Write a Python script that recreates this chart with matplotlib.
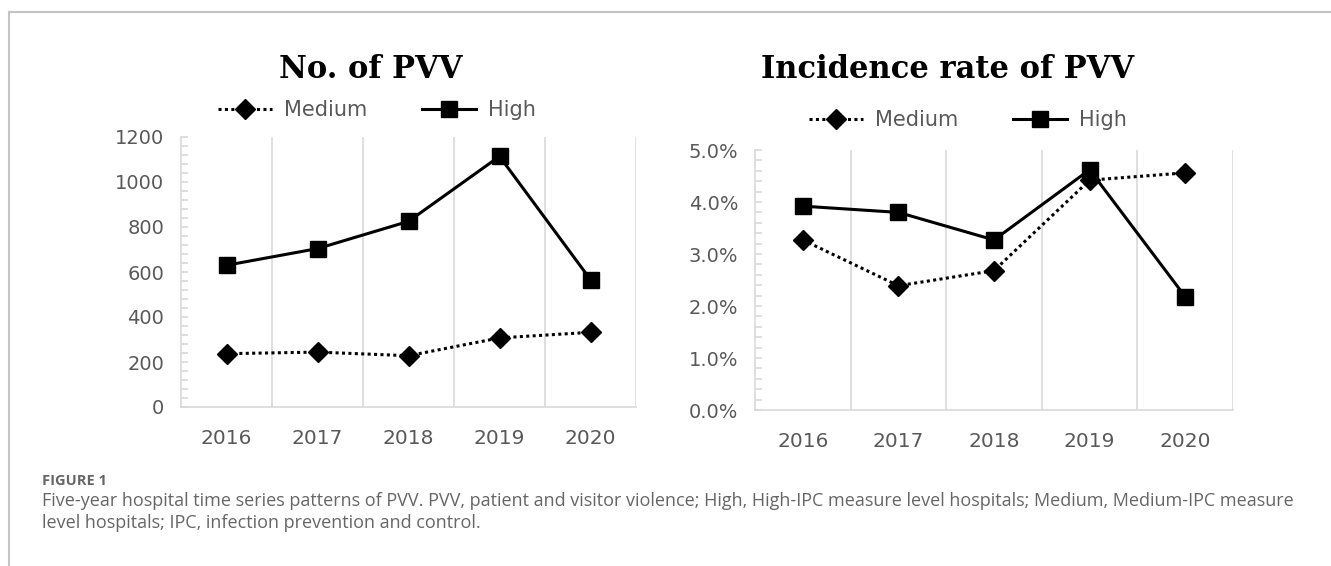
import matplotlib
matplotlib.use("Agg")
import matplotlib.pyplot as plt
from matplotlib.lines import Line2D
from matplotlib.ticker import MultipleLocator, PercentFormatter

years = ["2016", "2017", "2018", "2019", "2020"]

# No. of PVV
count_medium = [237, 244, 228, 307, 332]
count_high = [630, 704, 825, 1114, 566]

# Incidence rate of PVV (%)
rate_medium = [3.27, 2.39, 2.68, 4.42, 4.56]
rate_high = [3.92, 3.80, 3.27, 4.62, 2.18]

caption_head = "FIGURE 1"
caption_body = ("Five-year hospital time series patterns of PVV. PVV, patient and visitor violence; "
                "High, High-IPC measure level hospitals; Medium, Medium-IPC measure\n"
                "level hospitals; IPC, infection prevention and control.")

GREY = "#595959"
GRID = "#d9d9d9"


def draw_panel(ax, medium, high, ymax, major, fmt=None):
    x = list(range(len(years)))
    ax.plot(x, medium, color="black", lw=2.2, ls=(0, (1, 1.1)), marker="D",
            ms=10, zorder=3)
    ax.plot(x, high, color="black", lw=2.2, ls="-", marker="s",
            ms=12, zorder=4)
    ax.set_xlim(-0.5, len(years) - 0.5)
    ax.set_ylim(0, ymax)
    ax.set_xticks(x)
    ax.set_xticklabels(years)
    # vertical lines between the categories
    for b in range(1, len(years) + 1):
        ax.axvline(b - 0.5, color=GRID, lw=1.2, zorder=1)
    ax.yaxis.set_major_locator(MultipleLocator(major))
    ax.yaxis.set_minor_locator(MultipleLocator(major / 5))
    if fmt is not None:
        ax.yaxis.set_major_formatter(fmt)
    for s in ["top", "right"]:
        ax.spines[s].set_visible(False)
    for s in ["left", "bottom"]:
        ax.spines[s].set_color(GRID)
        ax.spines[s].set_linewidth(1.2)
    ax.tick_params(axis="y", which="both", direction="in", color=GRID,
                   length=5, width=1.2, labelsize=14, labelcolor=GREY, pad=12)
    ax.tick_params(axis="x", length=0, labelsize=14.5, labelcolor=GREY, pad=16)


fig = plt.figure(figsize=(13.31, 5.66), dpi=100)

# page frame lines (top and left)
fig.add_artist(Line2D([9 / 1331, 1], [1 - 12 / 566] * 2, color="#c4c4c4", lw=1.5))
fig.add_artist(Line2D([9 / 1331] * 2, [0, 1 - 12 / 566], color="#c4c4c4", lw=1.5))

ax1 = fig.add_axes([181 / 1331, 1 - 407 / 566, 455 / 1331, 270 / 566])
draw_panel(ax1, count_medium, count_high, 1200, 200)

ax2 = fig.add_axes([755 / 1331, 1 - 410 / 566, 478 / 1331, 260 / 566])
draw_panel(ax2, rate_medium, rate_high, 5.0, 1.0, PercentFormatter(decimals=1))

fig.text(371 / 1331, 1 - 70 / 566, "No. of PVV", ha="center", va="center",
         family="DejaVu Serif", weight="bold", fontsize=22)
fig.text(948 / 1331, 1 - 70 / 566, "Incidence rate of PVV", ha="center", va="center",
         family="DejaVu Serif", weight="bold", fontsize=22)

handles = [Line2D([], [], color="black", lw=2.2, ls=(0, (1, 1.1)), marker="D", ms=10),
           Line2D([], [], color="black", lw=2.2, ls="-", marker="s", ms=12)]
for cx, cy in [(377 / 1331, 1 - 110 / 566), (968 / 1331, 1 - 120 / 566)]:
    leg = fig.legend(handles, ["Medium", "High"], loc="center", bbox_to_anchor=(cx, cy),
                     ncol=2, frameon=False, fontsize=15, handlelength=2.6,
                     columnspacing=2.6, handletextpad=0.6)
    for t in leg.get_texts():
        t.set_color(GREY)

fig.text(42 / 1331, 1 - 481 / 566, caption_head, ha="left", va="center",
         family="Open Sans", weight="bold", fontsize=10.5, color="#666666")
fig.text(42 / 1331, 1 - 492 / 566, caption_body, ha="left", va="top",
         family="Open Sans", fontsize=13, color="#666666", linespacing=1.3)

fig.savefig("out.png", dpi=100)
